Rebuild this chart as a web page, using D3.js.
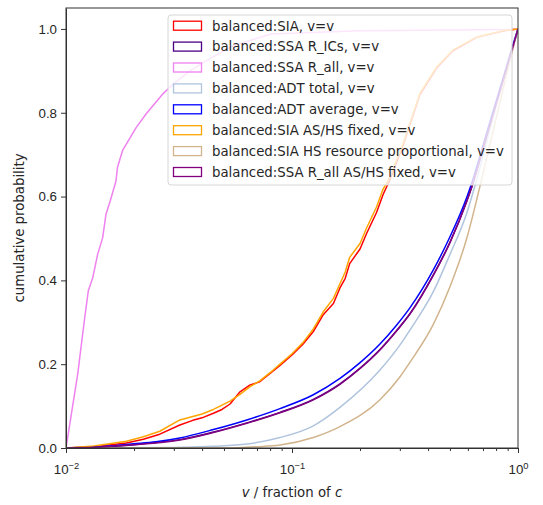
<!DOCTYPE html>
<html>
<head>
<meta charset="utf-8">
<script src="https://cdn.jsdelivr.net/npm/d3@7"></script>
<style>
  body { margin: 0; background: #fff; }
  svg { font-family: "DejaVu Sans", sans-serif; }
</style>
</head>
<body>
<svg width="543" height="505"></svg>
<script>
// cumulative curves, [v, probability]
const siaData = [
  [0.01, 0], [0.0133, 0.003], [0.0185, 0.012], [0.022, 0.021], [0.026, 0.033], [0.0319, 0.055],
  [0.0364, 0.066], [0.040, 0.072], [0.0449, 0.083], [0.049, 0.092], [0.0532, 0.105], [0.0589, 0.134],
  [0.065, 0.150], [0.072, 0.158], [0.0826, 0.184], [0.0885, 0.197], [0.100, 0.222],
  [0.112, 0.248], [0.1243, 0.278], [0.1375, 0.318], [0.1525, 0.345], [0.163, 0.382],
  [0.172, 0.405], [0.180, 0.440], [0.200, 0.475], [0.2138, 0.512], [0.2366, 0.562], [0.253, 0.605],
  [0.270, 0.638], [0.310, 0.722], [0.368, 0.843], [0.437, 0.907], [0.515, 0.948],
  [0.657, 0.980], [0.858, 0.995], [1.0, 1.0]
];
const siaFixedData = [
  [0.01, 0], [0.0133, 0.005], [0.0185, 0.016], [0.022, 0.027], [0.026, 0.040], [0.0319, 0.067],
  [0.0364, 0.075], [0.040, 0.081], [0.0449, 0.092], [0.0532, 0.112], [0.0589, 0.128], [0.065, 0.146],
  [0.072, 0.160], [0.0826, 0.186], [0.0885, 0.200], [0.100, 0.225], [0.112, 0.252],
  [0.1243, 0.284], [0.1375, 0.325], [0.1525, 0.357], [0.163, 0.392], [0.172, 0.420], [0.180, 0.455],
  [0.200, 0.488], [0.2138, 0.525], [0.2366, 0.575], [0.253, 0.618], [0.270, 0.645],
  [0.310, 0.727], [0.368, 0.847], [0.437, 0.910], [0.515, 0.950], [0.657, 0.981],
  [0.858, 0.996], [1.0, 1.0]
];
const ssaRallData = [
  [0.01, 0], [0.01127, 0.177], [0.01205, 0.303], [0.01255, 0.375], [0.01313, 0.406],
  [0.0138, 0.462], [0.01453, 0.502], [0.01503, 0.558], [0.0157, 0.590], [0.01664, 0.637],
  [0.0169, 0.670], [0.0178, 0.710], [0.0204, 0.764], [0.0226, 0.797], [0.0268, 0.845],
  [0.0292, 0.864], [0.035, 0.898], [0.0416, 0.924], [0.055, 0.960], [0.0807, 0.988],
  [0.20, 0.996], [0.931, 0.999], [1.0, 1.0]
];
const adtAverageData = [
  [0.01, 0], [0.015, 0.004], [0.020, 0.010], [0.025, 0.015], [0.0319, 0.024], [0.0449, 0.044],
  [0.0631, 0.067], [0.0885, 0.094], [0.1243, 0.127], [0.163, 0.166], [0.1995, 0.203],
  [0.245, 0.248], [0.290, 0.293], [0.333, 0.335], [0.422, 0.425], [0.500, 0.504],
  [0.593, 0.598], [0.624, 0.632], [0.727, 0.752], [0.847, 0.872], [1.0, 1.0]
];
const ssaRicsData = [
  [0.01, 0], [0.015, 0.003], [0.020, 0.008], [0.025, 0.013], [0.0319, 0.020], [0.0449, 0.038],
  [0.0631, 0.060], [0.0885, 0.085], [0.1243, 0.116], [0.163, 0.153], [0.1995, 0.190],
  [0.245, 0.235], [0.290, 0.280], [0.333, 0.321], [0.422, 0.413], [0.500, 0.491],
  [0.593, 0.589], [0.624, 0.623], [0.727, 0.745], [0.847, 0.866], [1.0, 1.0]
];
const ssaRallFixedData = [
  [0.01, 0], [0.015, 0.003], [0.020, 0.008], [0.025, 0.012], [0.0319, 0.019], [0.0449, 0.037],
  [0.0631, 0.059], [0.0885, 0.084], [0.1243, 0.115], [0.163, 0.152], [0.1995, 0.189],
  [0.245, 0.234], [0.290, 0.279], [0.333, 0.320], [0.422, 0.412], [0.500, 0.490],
  [0.593, 0.588], [0.624, 0.622], [0.727, 0.744], [0.847, 0.865], [1.0, 1.0]
];
const adtTotalData = [
  [0.01, 0], [0.030, 0.001], [0.045, 0.004], [0.0631, 0.0095], [0.0885, 0.025],
  [0.1243, 0.053], [0.163, 0.097], [0.245, 0.186], [0.3006, 0.246], [0.333, 0.282],
  [0.422, 0.373], [0.500, 0.462], [0.593, 0.560], [0.656, 0.640], [0.727, 0.730],
  [0.847, 0.866], [0.937, 0.956], [1.0, 1.0]
];
const siaHsPropData = [
  [0.01, 0], [0.050, 0], [0.070, 0.003], [0.0885, 0.007], [0.1243, 0.025],
  [0.163, 0.051], [0.245, 0.115], [0.3006, 0.170], [0.333, 0.205], [0.422, 0.295],
  [0.500, 0.385], [0.593, 0.500], [0.679, 0.625], [0.752, 0.725], [0.832, 0.825],
  [0.922, 0.925], [1.0, 1.0]
];

const seriesNames = [
  "balanced:SIA, v=v",
  "balanced:SSA R_ICs, v=v",
  "balanced:SSA R_all, v=v",
  "balanced:ADT total, v=v",
  "balanced:ADT average, v=v",
  "balanced:SIA AS/HS fixed, v=v",
  "balanced:SIA HS resource proportional, v=v",
  "balanced:SSA R_all AS/HS fixed, v=v"
];
const seriesColors = ["red", "indigo", "violet", "lightsteelblue", "blue", "orange", "tan", "purple"];
const seriesData = [siaData, ssaRicsData, ssaRallData, adtTotalData, adtAverageData,
                    siaFixedData, siaHsPropData, ssaRallFixedData];
// jagged empirical curves keep straight segments, the smooth ones get a monotone curve
const seriesSmooth = [false, true, false, true, true, false, true, true];

const xMajor = [0.01, 0.1, 1];
const xMajorExp = ["\u22122", "\u22121", "0"];
const yTicks = [0, 0.2, 0.4, 0.6, 0.8, 1.0];

const pLeft = 66, pRight = 518, pTop = 8, pBottom = 448;
const fontSize = 13.3;

const svg = d3.select("svg");

const x = d3.scaleLog().domain([0.01, 1]).range([pLeft, pRight]);
const y = d3.scaleLinear().domain([0, 1.05]).range([pBottom, pTop]);

svg.append("defs").append("clipPath").attr("id", "plot")
  .append("rect").attr("x", pLeft).attr("y", pTop)
  .attr("width", pRight - pLeft).attr("height", pBottom - pTop);

// curves
const curves = svg.append("g").attr("clip-path", "url(#plot)");
seriesData.forEach((data, i) => {
  const line = d3.line().x(d => x(d[0])).y(d => y(d[1]))
    .curve(seriesSmooth[i] ? d3.curveMonotoneX : d3.curveLinear);
  curves.append("path")
    .attr("d", line(data))
    .attr("fill", "none")
    .attr("stroke", seriesColors[i])
    .attr("stroke-width", 1.5)
    .attr("stroke-linejoin", "round");
});

// x axis
const minors = [];
[0.01, 0.1].forEach(b => { for (let k = 2; k < 10; k++) minors.push(b * k); });
svg.append("g").attr("transform", `translate(0,${pBottom})`)
  .call(d3.axisBottom(x).tickValues(minors).tickSize(3).tickFormat(""))
  .call(g => g.select(".domain").remove());
const xAxis = svg.append("g").attr("transform", `translate(0,${pBottom})`)
  .call(d3.axisBottom(x).tickValues(xMajor).tickSize(5).tickSizeOuter(0).tickFormat(""));
xAxis.selectAll(".tick").each(function (d, i) {
  const t = d3.select(this).append("text")
    .attr("y", 26).attr("fill", "#262626").attr("font-size", fontSize)
    .attr("text-anchor", "middle");
  t.append("tspan").text("10");
  t.append("tspan").attr("dy", -5.5).attr("font-size", 9.3).text(xMajorExp[i]);
});

// y axis
svg.append("g").attr("transform", `translate(${pLeft},0)`)
  .call(d3.axisLeft(y).tickValues(yTicks).tickSize(5).tickSizeOuter(0)
    .tickFormat(d3.format(".1f")))
  .call(g => g.selectAll("text").attr("font-size", fontSize).attr("fill", "#262626").attr("dx", -1));

svg.selectAll(".tick line").attr("stroke", "#333");
svg.selectAll(".domain").attr("stroke", "#333");

// frame
svg.append("rect").attr("x", pLeft).attr("y", pTop)
  .attr("width", pRight - pLeft).attr("height", pBottom - pTop)
  .attr("fill", "none").attr("stroke", "#333").attr("stroke-width", 1);

// axis labels
const xl = svg.append("text").attr("x", (pLeft + pRight) / 2).attr("y", 497)
  .attr("text-anchor", "middle").attr("font-size", fontSize).attr("fill", "#262626");
xl.append("tspan").attr("font-style", "italic").text("v");
xl.append("tspan").text(" / fraction of ");
xl.append("tspan").attr("font-style", "italic").text("c");

svg.append("text")
  .attr("transform", `translate(24,${(pTop + pBottom) / 2}) rotate(-90)`)
  .attr("text-anchor", "middle").attr("font-size", fontSize).attr("fill", "#262626")
  .text("cumulative probability");

// legend
const legend = svg.append("g").attr("transform", "translate(168,15)");
legend.append("rect").attr("width", 344).attr("height", 170).attr("rx", 3)
  .attr("fill", "white").attr("fill-opacity", 0.8)
  .attr("stroke", "#d6d6d6").attr("stroke-width", 1);
seriesNames.forEach((name, i) => {
  const cy = 10.7 + i * 20.9;
  legend.append("rect").attr("x", 5.5).attr("y", cy - 4.5)
    .attr("width", 28).attr("height", 9)
    .attr("fill", "none").attr("stroke", seriesColors[i]).attr("stroke-width", 1.3);
  legend.append("text").attr("x", 44).attr("y", cy + 4.8)
    .attr("font-size", fontSize).attr("fill", "#262626").text(name);
});
</script>
</body>
</html>
